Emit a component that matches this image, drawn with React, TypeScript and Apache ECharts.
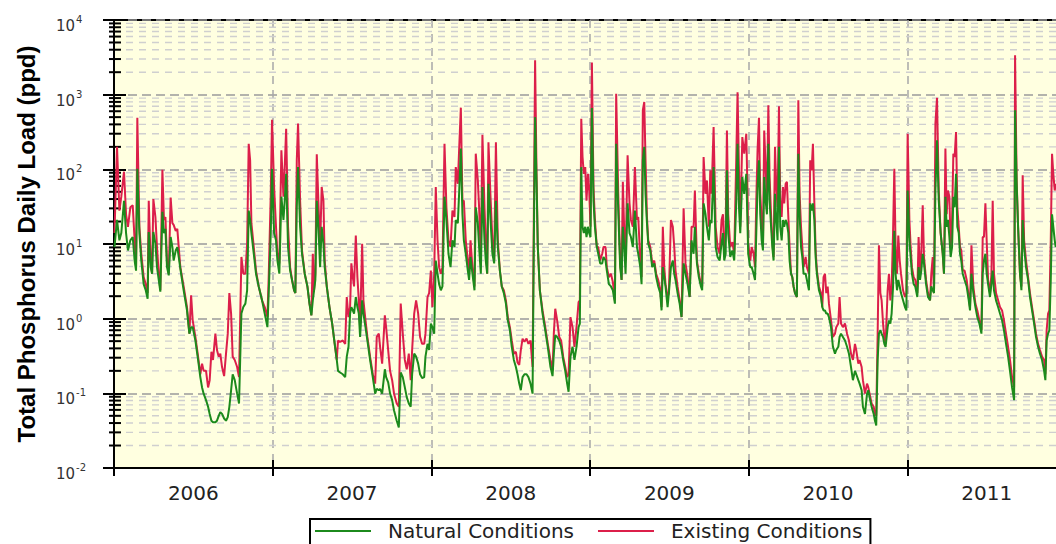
import React, { useEffect, useRef } from 'react';
import * as echarts from 'echarts';

const yearLabels = ['2006', '2007', '2008', '2009', '2010', '2011'];
const naturalName = 'Natural Conditions';
const existingName = 'Existing Conditions';
const minorMultipliers = [2, 3, 4, 5, 6, 7, 8, 9];
const yTitle = 'Total Phosphorus Daily Load (ppd)';

// rows: [decimal year, natural (ppd), existing (ppd)]
const load2006 = [
  [2006.003, 9.1, 14], [2006.019, 21, 200], [2006.034, 11.2, 28], [2006.046, 14, 43], [2006.063, 38, 93],
  [2006.076, 14, 25], [2006.088, 8.2, 17], [2006.103, 11.2, 31], [2006.118, 12.4, 33], [2006.130, 6.0, 11.2],
  [2006.139, 4.4, 4.9], [2006.147, 102, 490], [2006.160, 14, 17], [2006.172, 6.0, 7.4], [2006.187, 2.9, 3.6],
  [2006.200, 2.4, 2.9], [2006.212, 1.85, 2.2], [2006.219, 14.5, 38], [2006.231, 4.9, 6.0], [2006.240, 4.0, 4.0],
  [2006.248, 14.5, 40], [2006.261, 10.1, 23], [2006.271, 4.9, 9.1], [2006.282, 3.3, 4.0], [2006.292, 2.3, 2.4],
  [2006.305, 27, 99], [2006.315, 14, 21], [2006.324, 16, 23], [2006.334, 4.9, 6.0], [2006.345, 3.8, 4.0],
  [2006.357, 12.4, 42], [2006.368, 9.1, 19], [2006.376, 6.0, 18], [2006.389, 8.2, 15], [2006.399, 9.1, 16],
  [2006.408, 6.7, 9.1], [2006.418, 4.7, 4.9], [2006.439, 2.4, 2.7], [2006.460, 1.29, 1.43], [2006.475, 0.63, 0.63],
  [2006.486, 0.77, 2.05], [2006.496, 0.77, 0.95], [2006.513, 0.51, 0.57], [2006.530, 0.28, 0.31], [2006.544, 0.165, 0.18],
  [2006.555, 0.12, 0.25], [2006.565, 0.099, 0.20], [2006.580, 0.081, 0.20], [2006.593, 0.066, 0.12], [2006.603, 0.053, 0.15],
  [2006.614, 0.043, 0.36], [2006.624, 0.041, 0.28], [2006.639, 0.041, 0.63], [2006.649, 0.043, 0.38], [2006.660, 0.050, 0.31],
  [2006.670, 0.056, 0.34], [2006.681, 0.053, 0.225], [2006.694, 0.046, 0.17], [2006.706, 0.043, 0.34], [2006.717, 0.048, 0.63],
  [2006.727, 0.066, 2.2], [2006.738, 0.11, 1.17], [2006.748, 0.18, 0.31], [2006.761, 0.15, 0.28], [2006.776, 0.099, 0.225],
  [2006.788, 0.073, 0.165], [2006.803, 1.17, 6.7], [2006.815, 1.43, 4.0], [2006.828, 1.59, 4.0], [2006.839, 2.4, 10.1],
  [2006.849, 28, 220], [2006.858, 21, 132], [2006.866, 14, 19], [2006.881, 7.4, 9.1], [2006.895, 4.0, 4.4],
  [2006.912, 2.7, 2.7], [2006.933, 1.76, 1.76], [2006.950, 1.17, 1.43], [2006.967, 0.77, 1.05], [2006.975, 2.2, 3.6],
  [2006.988, 14, 47], [2006.996, 102, 460],
];

const load2007 = [
  [2007.009, 14, 58], [2007.021, 11.2, 17], [2007.030, 6.0, 7.4], [2007.042, 4.0, 5.5], [2007.055, 43, 180],
  [2007.068, 21, 43], [2007.076, 38, 107], [2007.085, 87, 350], [2007.097, 9.1, 17], [2007.110, 4.4, 4.9],
  [2007.122, 3.3, 3.3], [2007.135, 2.4, 2.4], [2007.143, 2.2, 2.2], [2007.152, 31, 132], [2007.160, 107, 410],
  [2007.173, 17, 38], [2007.185, 7.4, 8.2], [2007.202, 4.0, 4.0], [2007.219, 2.7, 2.7], [2007.232, 1.59, 1.59],
  [2007.244, 1.11, 1.11], [2007.253, 1.76, 7.4], [2007.261, 2.4, 2.4], [2007.269, 3.3, 4.0], [2007.278, 38, 159],
  [2007.288, 17, 38], [2007.299, 4.9, 9.1], [2007.309, 17, 58], [2007.320, 10.1, 38], [2007.328, 4.9, 6.0],
  [2007.341, 2.7, 2.7], [2007.358, 1.43, 1.43], [2007.375, 0.86, 0.86], [2007.391, 0.46, 0.46], [2007.404, 0.28, 0.28],
  [2007.412, 0.20, 0.51], [2007.425, 0.19, 0.49], [2007.442, 0.18, 0.51], [2007.457, 0.165, 0.46], [2007.467, 0.31, 1.95],
  [2007.478, 0.42, 1.05], [2007.488, 1.17, 1.43], [2007.496, 1.43, 5.5], [2007.505, 1.29, 3.6], [2007.513, 1.17, 2.7],
  [2007.524, 1.95, 13], [2007.534, 1.43, 3.6], [2007.543, 1.17, 1.76], [2007.551, 0.57, 0.77], [2007.564, 1.76, 10.1],
  [2007.572, 1.17, 1.76], [2007.585, 0.77, 0.95], [2007.597, 0.51, 0.57], [2007.614, 0.28, 0.31], [2007.631, 0.165, 0.18],
  [2007.646, 0.099, 0.135], [2007.656, 0.115, 0.57], [2007.669, 0.11, 0.63], [2007.677, 0.115, 0.42], [2007.690, 0.099, 0.25],
  [2007.707, 0.21, 1.11], [2007.715, 0.165, 0.77], [2007.728, 0.14, 0.38], [2007.740, 0.099, 0.20], [2007.753, 0.081, 0.15],
  [2007.765, 0.059, 0.099], [2007.782, 0.043, 0.073], [2007.795, 0.035, 0.066], [2007.807, 0.19, 1.59], [2007.820, 0.165, 0.63],
  [2007.833, 0.12, 0.28], [2007.845, 0.089, 0.21], [2007.858, 0.073, 0.34], [2007.870, 0.066, 0.15], [2007.879, 0.18, 0.38],
  [2007.892, 0.34, 1.17], [2007.904, 0.31, 1.76], [2007.917, 0.25, 1.17], [2007.929, 0.18, 0.57], [2007.942, 0.16, 0.46],
  [2007.955, 0.165, 0.46], [2007.963, 0.31, 0.63], [2007.976, 0.46, 1.95],
];

const load2008 = [
  [2007.986, 0.38, 2.2], [2007.997, 0.86, 4.4], [2008.007, 0.77, 1.43], [2008.018, 0.63, 4.0], [2008.028, 6.0, 58],
  [2008.039, 4.0, 11.2], [2008.049, 2.9, 4.9], [2008.060, 2.4, 4.0], [2008.070, 2.7, 4.9], [2008.083, 43, 220],
  [2008.095, 21, 31], [2008.108, 7.4, 11.2], [2008.121, 4.9, 9.1], [2008.133, 11.2, 28], [2008.146, 9.1, 23],
  [2008.154, 21, 107], [2008.167, 19, 64], [2008.175, 47, 180], [2008.186, 190, 670], [2008.196, 25, 38],
  [2008.205, 11.2, 38], [2008.217, 7.4, 11.2], [2008.230, 4.4, 6.0], [2008.238, 3.3, 4.0], [2008.247, 6.7, 11.2],
  [2008.259, 4.0, 4.9], [2008.272, 2.4, 2.7], [2008.280, 31, 162], [2008.293, 19, 71], [2008.301, 9.1, 31],
  [2008.312, 4.0, 6.7], [2008.322, 58, 290], [2008.335, 11.2, 31], [2008.343, 6.0, 11.2], [2008.352, 4.0, 4.0],
  [2008.360, 64, 230], [2008.373, 21, 43], [2008.385, 7.4, 11.2], [2008.396, 5.5, 6.0], [2008.407, 38, 230],
  [2008.419, 9.1, 11.2], [2008.432, 4.4, 4.4], [2008.444, 2.7, 2.7], [2008.457, 2.2, 2.4], [2008.470, 1.59, 1.76],
  [2008.482, 0.95, 1.05], [2008.495, 0.70, 0.77], [2008.507, 0.42, 0.51], [2008.520, 0.28, 0.34], [2008.533, 0.225, 0.36],
  [2008.543, 0.18, 0.26], [2008.554, 0.135, 0.24], [2008.564, 0.11, 0.38], [2008.575, 0.165, 0.54], [2008.587, 0.18, 0.49],
  [2008.600, 0.18, 0.54], [2008.612, 0.165, 0.46], [2008.625, 0.135, 0.51], [2008.638, 0.099, 0.225], [2008.646, 11.2, 23],
  [2008.654, 500, 2880], [2008.663, 71, 87], [2008.671, 9.1, 9.1], [2008.684, 2.4, 2.4], [2008.701, 1.17, 1.29],
  [2008.718, 0.70, 0.77], [2008.734, 0.42, 0.46], [2008.751, 0.225, 0.28], [2008.764, 0.17, 0.20], [2008.772, 0.34, 0.63],
  [2008.781, 0.60, 1.36], [2008.793, 0.57, 0.95], [2008.806, 0.51, 0.57], [2008.818, 0.42, 0.51], [2008.831, 0.28, 0.31],
  [2008.844, 0.20, 0.225], [2008.856, 0.135, 0.165], [2008.865, 0.105, 0.18], [2008.877, 0.31, 1.05], [2008.890, 0.42, 0.77],
  [2008.902, 0.28, 0.42], [2008.915, 0.42, 0.77], [2008.928, 0.77, 1.67], [2008.936, 0.86, 1.76], [2008.945, 107, 477],
  [2008.953, 17, 146], [2008.961, 14, 87], [2008.970, 17, 107], [2008.978, 12.4, 38], [2008.987, 17, 87],
  [2008.995, 14, 52], [2009.003, 12.4, 17], [2009.012, 665, 2700],
];

const load2009 = [
  [2009.022, 38, 58], [2009.031, 17, 21], [2009.043, 9.1, 9.1], [2009.052, 7.4, 9.1], [2009.064, 5.5, 6.0],
  [2009.077, 5.5, 7.4], [2009.085, 6.7, 9.1], [2009.098, 6.0, 9.1], [2009.106, 4.4, 4.9], [2009.119, 2.9, 3.6],
  [2009.132, 2.7, 4.0], [2009.144, 2.4, 3.1], [2009.157, 1.59, 1.76], [2009.165, 220, 1030], [2009.178, 28, 47],
  [2009.190, 4.9, 6.0], [2009.199, 3.3, 3.3], [2009.207, 17, 68], [2009.216, 9.1, 14], [2009.224, 4.0, 6.0],
  [2009.237, 35, 154], [2009.249, 14, 35], [2009.258, 12.4, 21], [2009.270, 9.1, 17], [2009.283, 28, 107],
  [2009.296, 9.1, 21], [2009.304, 7.4, 23], [2009.317, 4.9, 6.0], [2009.325, 2.9, 3.6], [2009.333, 132, 620],
  [2009.342, 200, 800], [2009.350, 47, 132], [2009.359, 19, 23], [2009.367, 10.1, 11.2], [2009.380, 8.2, 9.1],
  [2009.392, 4.9, 5.5], [2009.405, 5.5, 6.0], [2009.417, 3.6, 4.0], [2009.430, 2.7, 3.3], [2009.443, 2.2, 2.4],
  [2009.451, 1.29, 1.43], [2009.459, 4.9, 17], [2009.468, 3.6, 4.9], [2009.476, 2.7, 2.9], [2009.489, 1.43, 1.95],
  [2009.497, 2.2, 2.2], [2009.510, 4.9, 21], [2009.522, 6.0, 17], [2009.531, 4.0, 9.1], [2009.539, 3.3, 4.4],
  [2009.552, 2.2, 2.7], [2009.565, 1.59, 1.76], [2009.577, 1.05, 1.05], [2009.590, 5.5, 30], [2009.602, 4.0, 5.5],
  [2009.615, 2.9, 3.6], [2009.628, 1.95, 1.95], [2009.640, 11.2, 17], [2009.653, 7.4, 17], [2009.661, 17, 52],
  [2009.674, 5.5, 6.0], [2009.686, 3.6, 4.0], [2009.699, 2.7, 2.9], [2009.707, 2.4, 2.7], [2009.716, 35, 146],
  [2009.728, 25, 47], [2009.737, 17, 71], [2009.749, 11.2, 17], [2009.758, 21, 97], [2009.766, 19, 47],
  [2009.779, 107, 370], [2009.792, 9.1, 17], [2009.804, 6.7, 9.1], [2009.817, 6.0, 7.4], [2009.829, 10.1, 21],
  [2009.838, 14, 25], [2009.846, 6.0, 6.7], [2009.855, 7.4, 15], [2009.863, 97, 330], [2009.871, 14, 25],
  [2009.884, 6.7, 9.1], [2009.897, 8.2, 10.6], [2009.909, 6.0, 7.4], [2009.922, 38, 146], [2009.930, 220, 1080],
  [2009.939, 31, 97], [2009.947, 14, 17], [2009.960, 79, 270], [2009.972, 47, 162], [2009.985, 87, 300],
  [2009.993, 17, 47],
];

const load2010 = [
  [2009.997, 7.4, 10.1], [2010.010, 4.9, 6.0], [2010.019, 4.9, 9.1], [2010.031, 4.0, 7.4], [2010.040, 3.3, 4.9],
  [2010.048, 14, 38], [2010.056, 58, 180], [2010.065, 132, 490], [2010.073, 25, 47], [2010.082, 11.2, 21],
  [2010.090, 8.2, 9.1], [2010.098, 79, 330], [2010.107, 38, 107], [2010.115, 25, 38], [2010.124, 220, 720],
  [2010.132, 38, 79], [2010.140, 19, 28], [2010.149, 9.1, 11.2], [2010.157, 6.0, 6.7], [2010.166, 47, 200],
  [2010.174, 21, 58], [2010.182, 11.2, 31], [2010.191, 200, 700], [2010.199, 17, 38], [2010.208, 11.2, 23],
  [2010.216, 21, 58], [2010.224, 17, 35], [2010.233, 21, 64], [2010.241, 19, 68], [2010.250, 14, 23],
  [2010.258, 6.0, 9.1], [2010.267, 4.0, 4.0], [2010.275, 3.6, 3.6], [2010.283, 2.7, 2.7], [2010.292, 2.2, 2.2],
  [2010.304, 1.95, 1.95], [2010.313, 162, 840], [2010.321, 25, 47], [2010.330, 9.1, 17], [2010.338, 6.7, 9.1],
  [2010.346, 4.0, 4.9], [2010.359, 4.0, 6.7], [2010.367, 3.3, 4.9], [2010.380, 2.4, 4.0], [2010.388, 35, 132],
  [2010.397, 28, 97], [2010.405, 35, 220], [2010.414, 21, 35], [2010.422, 6.7, 8.2], [2010.430, 4.0, 4.4],
  [2010.443, 2.4, 2.7], [2010.456, 1.95, 2.2], [2010.464, 1.43, 1.43], [2010.472, 1.29, 3.6], [2010.481, 1.29, 4.0],
  [2010.489, 1.17, 2.2], [2010.498, 1.17, 2.7], [2010.506, 1.05, 1.59], [2010.519, 0.77, 0.95], [2010.531, 0.42, 0.57],
  [2010.544, 0.34, 0.63], [2010.552, 0.38, 0.77], [2010.565, 0.42, 0.86], [2010.573, 0.57, 1.95], [2010.582, 0.63, 0.86],
  [2010.594, 0.57, 0.77], [2010.607, 0.51, 0.86], [2010.620, 0.42, 0.63], [2010.632, 0.34, 0.51], [2010.645, 0.225, 0.34],
  [2010.657, 0.15, 0.28], [2010.670, 0.20, 0.46], [2010.678, 0.18, 0.38], [2010.691, 0.15, 0.25], [2010.699, 0.135, 0.28],
  [2010.712, 0.11, 0.225], [2010.720, 0.066, 0.15], [2010.733, 0.053, 0.099], [2010.746, 0.099, 0.135], [2010.754, 0.11, 0.12],
  [2010.762, 0.089, 0.099], [2010.775, 0.066, 0.073], [2010.788, 0.053, 0.066], [2010.796, 0.043, 0.053], [2010.804, 0.037, 0.05],
  [2010.813, 0.28, 0.63], [2010.821, 0.63, 9.6], [2010.830, 0.70, 2.2], [2010.838, 0.63, 1.76], [2010.847, 0.57, 0.86],
  [2010.855, 0.46, 0.57], [2010.863, 0.42, 0.46], [2010.876, 0.77, 2.4], [2010.884, 0.95, 4.0], [2010.893, 0.86, 1.76],
  [2010.901, 1.17, 2.7], [2010.910, 2.7, 14], [2010.918, 15, 102], [2010.926, 4.0, 9.1], [2010.935, 2.4, 4.0],
  [2010.943, 3.3, 13], [2010.952, 2.7, 6.0], [2010.960, 2.2, 4.0], [2010.973, 1.76, 2.4], [2010.985, 1.43, 1.95],
  [2010.994, 1.29, 2.2], [2011.002, 52, 300],
];

const load2011 = [
  [2011.013, 11.2, 21], [2011.021, 6.7, 9.1], [2011.029, 4.0, 4.9], [2011.040, 2.9, 3.6], [2011.050, 2.7, 3.3],
  [2011.063, 1.95, 2.2], [2011.071, 4.9, 12.4], [2011.080, 3.3, 4.0], [2011.088, 4.4, 7.4], [2011.097, 7.4, 33],
  [2011.105, 5.5, 6.7], [2011.118, 2.9, 3.3], [2011.130, 1.95, 2.2], [2011.143, 1.76, 1.76], [2011.151, 2.7, 4.0],
  [2011.160, 2.4, 6.7], [2011.168, 2.2, 2.2], [2011.177, 52, 410], [2011.187, 245, 910], [2011.198, 38, 52],
  [2011.210, 14, 14], [2011.223, 7.4, 7.4], [2011.231, 4.0, 4.0], [2011.240, 43, 190], [2011.248, 17, 25],
  [2011.256, 21, 52], [2011.265, 12.4, 43], [2011.273, 6.7, 9.1], [2011.282, 9.1, 21], [2011.290, 43, 162],
  [2011.298, 31, 146], [2011.307, 87, 315], [2011.315, 17, 31], [2011.324, 14, 17], [2011.332, 7.4, 9.1],
  [2011.340, 6.0, 8.2], [2011.349, 4.0, 4.4], [2011.361, 3.3, 4.4], [2011.374, 2.7, 3.3], [2011.387, 1.76, 1.95],
  [2011.395, 1.29, 1.43], [2011.404, 4.0, 9.6], [2011.416, 2.2, 2.7], [2011.429, 1.43, 1.59], [2011.441, 1.05, 1.29],
  [2011.454, 0.86, 0.95], [2011.467, 0.63, 0.70], [2011.475, 4.0, 12.4], [2011.483, 6.0, 12.4], [2011.492, 7.4, 35],
  [2011.500, 4.0, 11.2], [2011.509, 2.9, 3.3], [2011.521, 1.95, 2.2], [2011.530, 2.9, 4.0], [2011.538, 4.4, 38],
  [2011.546, 2.4, 4.0], [2011.559, 1.76, 2.2], [2011.572, 1.43, 1.76], [2011.584, 1.17, 1.43], [2011.597, 0.95, 1.29],
  [2011.609, 0.70, 0.95], [2011.622, 0.46, 0.63], [2011.635, 0.31, 0.42], [2011.647, 0.20, 0.28], [2011.660, 0.12, 0.165],
  [2011.673, 0.081, 0.12], [2011.679, 620, 3360], [2011.689, 64, 71], [2011.698, 17, 17], [2011.710, 4.0, 4.0],
  [2011.719, 2.4, 2.7], [2011.727, 21, 83], [2011.736, 9.1, 11.2], [2011.748, 4.9, 6.0], [2011.761, 3.3, 3.6],
  [2011.773, 1.95, 2.2], [2011.786, 1.29, 1.43], [2011.799, 0.86, 0.95], [2011.811, 0.57, 0.63], [2011.824, 0.42, 0.46],
  [2011.836, 0.34, 0.38], [2011.849, 0.28, 0.31], [2011.862, 0.20, 0.28], [2011.870, 0.15, 0.18], [2011.878, 0.51, 0.70],
  [2011.887, 0.63, 1.17], [2011.895, 0.70, 1.29], [2011.904, 3.3, 11.2], [2011.912, 25, 162], [2011.920, 17, 87],
  [2011.929, 11.2, 52], [2011.935, 9.1, 64],
];

const GREEN = '#1c8a1c';
const RED = '#dc1f4a';

export default function App() {
  const ref = useRef<HTMLDivElement>(null);

  useEffect(() => {
    if (!ref.current) return;
    const chart = echarts.init(ref.current, null, { renderer: 'svg' });

    const rows = [...load2006, ...load2007, ...load2008, ...load2009, ...load2010, ...load2011];
    const natural = rows.map((r) => [r[0], r[1]]);
    const existing = rows.map((r) => [r[0], r[2]]);

    const minorValues: number[] = [];
    for (let e = -2; e < 4; e++) {
      for (const m of minorMultipliers) minorValues.push(+(m * Math.pow(10, e)).toPrecision(3));
    }

    const xMin = 2006;
    const xMax = 2012;

    const option: any = {
      animation: false,
      backgroundColor: '#ffffff',
      textStyle: { fontFamily: 'DejaVu Sans' },
      grid: {
        left: 114, right: 0, top: 20, bottom: 76,
        show: true, backgroundColor: '#ffffe0', borderColor: '#000', borderWidth: 2,
      },
      legend: {
        data: [naturalName, existingName],
        left: 310, top: 519,
        orient: 'horizontal',
        icon: 'rect',
        itemWidth: 56, itemHeight: 2, itemGap: 24,
        padding: [2, 8, 4, 5],
        borderColor: '#000', borderWidth: 2, backgroundColor: '#ffffff',
        selectedMode: false,
        textStyle: { fontSize: 20, lineHeight: 20, color: '#222', fontFamily: 'DejaVu Sans', padding: [0, 0, 0, 12] },
      },
      xAxis: [
        {
          type: 'value', min: xMin, max: xMax, interval: 1, position: 'bottom',
          axisLine: { show: true, onZero: false, lineStyle: { color: '#000', width: 2 } },
          axisTick: { show: true, length: 8, lineStyle: { color: '#000', width: 2 } },
          axisLabel: { show: false },
          splitLine: { show: true, lineStyle: { color: '#a8a8a8', width: 1.5, type: [8, 6] } },
        },
        {
          type: 'value', min: xMin, max: xMax, interval: 1, position: 'bottom',
          axisLine: { show: false, onZero: false },
          axisTick: { show: true, inside: true, length: 8, lineStyle: { color: '#000', width: 2 } },
          axisLabel: { show: false },
          splitLine: { show: false },
        },
        {
          type: 'category', data: yearLabels, position: 'bottom', boundaryGap: true,
          axisLine: { show: false, onZero: false },
          axisTick: { show: false },
          axisLabel: { fontSize: 20, color: '#222', margin: 15, fontFamily: 'DejaVu Sans' },
          splitLine: { show: false },
        },
      ],
      yAxis: [
        {
          type: 'log', logBase: 10, min: 0.01, max: 10000, splitNumber: 6, position: 'left',
          axisLine: { show: true, onZero: false, lineStyle: { color: '#000', width: 2 } },
          axisTick: { show: true, length: 11, lineStyle: { color: '#000', width: 2 } },
          axisLabel: {
            margin: 58,
            align: 'left',
            padding: [8, 0, 0, 0],
            formatter: (v: number) => {
              const e = Math.round(Math.log10(v));
              return '{b|10}{s|' + e + '}';
            },
            rich: {
              b: { fontSize: 15, color: '#333', fontFamily: 'DejaVu Sans', verticalAlign: 'bottom' },
              s: { fontSize: 10, color: '#333', fontFamily: 'DejaVu Sans', verticalAlign: 'bottom', padding: [0, 0, 9, 1] },
            },
          },
          splitLine: { show: true, lineStyle: { color: '#9a9a9a', width: 1.6, type: [9, 5] } },
          name: yTitle,
          nameLocation: 'middle',
          nameRotate: 90,
          nameGap: 76,
          nameTextStyle: { fontFamily: 'Liberation Sans', fontWeight: 'bold', fontSize: 24, color: '#000' },
        },
        {
          type: 'log', logBase: 10, min: 0.01, max: 10000, splitNumber: 6, position: 'left',
          axisLine: { show: false, onZero: false },
          axisTick: { show: true, inside: true, length: 12, lineStyle: { color: '#000', width: 2 } },
          axisLabel: { show: false },
          splitLine: { show: false },
        },
      ],
      series: [
        {
          type: 'custom',
          silent: true,
          clip: false,
          z: 1,
          xAxisIndex: 0,
          yAxisIndex: 0,
          encode: { x: 0, y: 1 },
          data: minorValues.map((v) => [xMin, v]),
          renderItem: (params: any, api: any) => {
            const v = api.value(1);
            const p = api.coord([xMin, v]);
            const pr = api.coord([xMax, v]);
            return {
              type: 'group',
              children: [
                {
                  type: 'line',
                  shape: { x1: p[0] + 12, y1: p[1], x2: pr[0], y2: p[1] },
                  style: { stroke: '#cfcfcf', lineWidth: 1.4, lineDash: [7, 6] },
                },
                {
                  type: 'line',
                  shape: { x1: p[0] - 5, y1: p[1], x2: p[0] + 7, y2: p[1] },
                  style: { stroke: '#000', lineWidth: 2 },
                },
              ],
            };
          },
        },
        {
          name: existingName, type: 'line', data: existing, xAxisIndex: 0, yAxisIndex: 0,
          showSymbol: false, symbol: 'none', z: 3,
          lineStyle: { color: RED, width: 2 }, itemStyle: { color: RED },
        },
        {
          name: naturalName, type: 'line', data: natural, xAxisIndex: 0, yAxisIndex: 0,
          showSymbol: false, symbol: 'none', z: 4,
          lineStyle: { color: GREEN, width: 2 }, itemStyle: { color: GREEN },
        },
      ],
    };

    chart.setOption(option);
    return () => chart.dispose();
  }, []);

  return (
    <div style={{ position: 'absolute', left: 0, top: 0, width: 1056, height: 544, overflow: 'hidden' }}>
      <div ref={ref} style={{ width: 1066, height: 544 }} />
    </div>
  );
}
